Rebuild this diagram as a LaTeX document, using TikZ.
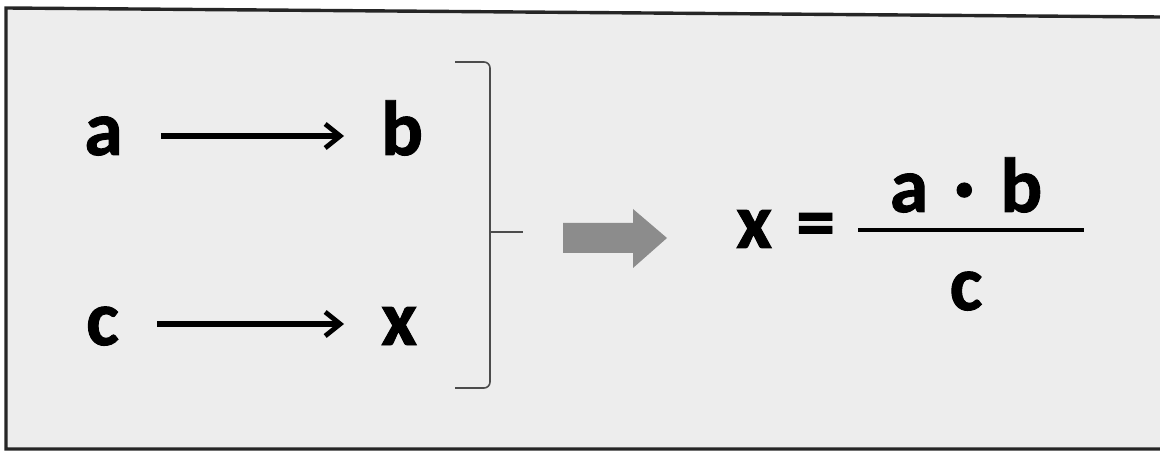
\documentclass[tikz,border=0pt]{standalone}
\usepackage{fontspec}
\setmainfont{Carlito}[BoldFeatures={FakeBold=1.2}]
\usetikzlibrary{arrows.meta}
\begin{document}
\begin{tikzpicture}[x=1pt,y=-1pt,
  letter/.style={inner sep=0pt, font=\fontsize{78}{80}\selectfont\bfseries, text=black},
  arr/.style={line width=5.2pt, -{Straight Barb[length=15pt,width=24pt,line width=4.8pt]}, shorten <=38pt, shorten >=37pt},
  frame/.style={line width=3.4pt, black!85},
  bracket/.style={line width=1.6pt, black!70, rounded corners=6pt},
  blockarrow/.style={fill=black!45, draw=none}
]
\useasboundingbox (0,0) rectangle (1160,457);
% background
\fill[black!7] (6,8) -- (1160,17) -- (1160,449) -- (6,449) -- cycle;
% frame
\draw[frame] (1160,17) -- (6,8) -- (6,449) -- (1160,449);
% left relations
\node[letter, anchor=base west] (a) at (84,155) {a};
\node[letter, anchor=base west] (b) at (381,155) {b};
\node[letter, anchor=base west] (c) at (86,345) {c};
\node[letter, anchor=base west] (x) at (381,345) {x};
\draw[arr] ([yshift=19pt]a.base east) -- ([yshift=19pt]b.base west);
\draw[arr] ([yshift=21pt]c.base east) -- ([yshift=21pt]x.base west);
% bracket
\draw[bracket] (455,62) -- (490,62) -- (490,388) -- (455,388);
\draw[bracket] (490,232) -- (523,232);
% block arrow
\fill[blockarrow] (563,223) -- (633,223) -- (633,209) -- (667,238) -- (633,268) -- (633,253) -- (563,253) -- cycle;
% formula
\node[letter, anchor=base west] (fx) at (736,248) {x};
\node[letter, anchor=base west] (eq) at (796,248) {=};
\node[letter, anchor=base] (num) at (966,212) {a\hspace{8pt} · \hspace{8pt}b};
\node[letter, anchor=base] (den) at (966,310) {c};
\draw[line width=4.8pt] (858,230) -- (1084,230);
\end{tikzpicture}
\end{document}
